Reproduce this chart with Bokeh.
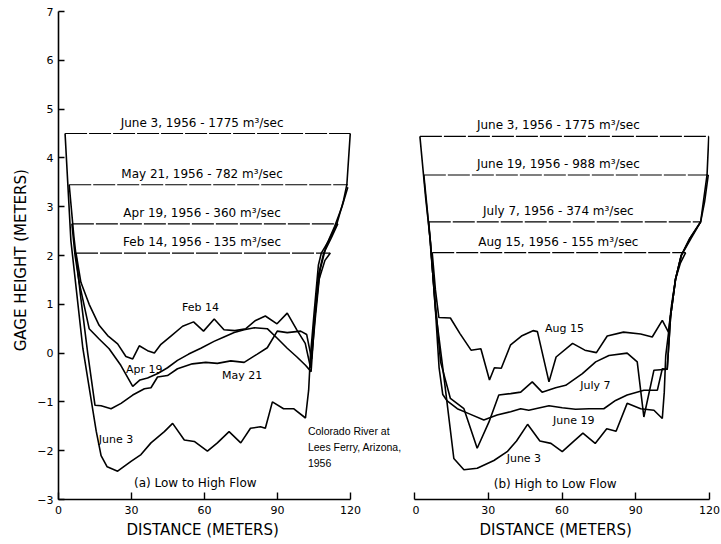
from bokeh.plotting import figure
from bokeh.models import Range1d, FixedTicker, ColumnDataSource, Label, Title
from bokeh.layouts import row
from bokeh.core.properties import value
from bokeh.embed import file_html
from bokeh.resources import INLINE

FONT = "DejaVu Sans"

# ---------------- data: (a) Low to High Flow ----------------
feb14_x = [7.2, 9.2, 12.6, 16.7, 20.2, 24.3, 27.7, 30.5, 33.2, 36.6, 39.4, 42.1, 46.2, 51.0, 55.5, 59.6,
           64.0, 68.0, 72.5, 77.0, 81.0, 85.0, 89.8, 94.0, 98.0, 101.4, 103.6, 105.0, 107.0, 109.5, 111.7]
feb14_y = [2.05, 1.45, 1.0, 0.57, 0.36, 0.19, -0.07, -0.12, 0.15, 0.05, 0.0, 0.18, 0.35, 0.55, 0.64, 0.45,
           0.70, 0.48, 0.46, 0.50, 0.67, 0.76, 0.60, 0.82, 0.47, 0.20, -0.30, 0.6, 1.5, 1.9, 2.05]

apr19_x = [5.5, 6.8, 8.5, 12.6, 16.7, 20.8, 25.6, 30.5, 33.5, 36.6, 40.8, 44.8, 48.9, 53.5, 58.5, 63.9,
           68.0, 72.2, 76.3, 80.5, 85.8, 90.0, 94.0, 98.0, 101.5, 103.8, 105.0, 106.8, 109.0, 112.0, 114.8]
apr19_y = [2.65, 2.0, 1.45, 0.5, 0.29, 0.09, -0.25, -0.68, -0.55, -0.51, -0.42, -0.3, -0.15, -0.02, 0.1, 0.24,
           0.33, 0.42, 0.48, 0.52, 0.5, 0.3, 0.1, -0.08, -0.25, -0.38, 0.5, 1.6, 2.05, 2.35, 2.65]

may21_x = [4.4, 6.3, 9.0, 12.0, 15.0, 17.5, 21.6, 25.7, 30.5, 35.3, 38.0, 40.7, 44.8, 48.9, 55.0, 60.5,
           65.3, 70.8, 76.3, 81.7, 85.8, 89.9, 94.0, 99.5, 102.0, 104.0, 105.5, 107.5, 110.0, 113.5, 116.5, 118.9]
may21_y = [3.45, 2.4, 1.2, 0.0, -1.07, -1.08, -1.14, -1.03, -0.86, -0.73, -0.71, -0.49, -0.46, -0.32, -0.22, -0.19,
           -0.21, -0.16, -0.19, -0.02, 0.11, 0.45, 0.42, 0.45, 0.38, -0.12, 0.7, 1.7, 2.2, 2.6, 3.0, 3.4]

jun3a_x = [2.7, 5.1, 10.0, 15.5, 17.5, 20.0, 24.3, 29.8, 33.9, 38.0, 43.5, 46.9, 51.7, 55.8, 61.2, 65.3,
           70.1, 74.9, 78.9, 83.0, 85.0, 87.9, 92.5, 96.6, 101.5, 102.8, 103.5, 105.0, 106.8, 108.0, 111.0,
           114.4, 117.0, 118.5, 119.9]
jun3a_y = [4.5, 2.3, 0.1, -1.6, -2.1, -2.33, -2.42, -2.22, -2.08, -1.84, -1.61, -1.44, -1.78, -1.81, -2.01, -1.84,
           -1.61, -1.84, -1.54, -1.51, -1.54, -1.0, -1.14, -1.14, -1.33, -0.76, -0.08, 0.8, 1.8, 2.05, 2.3,
           2.65, 3.1, 3.45, 4.5]

a_levels = [4.5, 3.45, 2.65, 2.05]
a_profiles = [(jun3a_x, jun3a_y), (may21_x, may21_y), (apr19_x, apr19_y), (feb14_x, feb14_y)]
a_level_text = ["June 3, 1956 - 1775 m\u00b3/sec", "May 21, 1956 - 782 m\u00b3/sec",
                "Apr 19, 1956 - 360 m\u00b3/sec", "Feb 14, 1956 - 135 m\u00b3/sec"]
a_curve_text = ["Feb 14", "Apr 19", "May 21", "June 3"]
a_curve_tx = [58.4, 35.2, 75.5, 23.6]
a_curve_ty = [0.94, -0.33, -0.46, -1.77]

# ---------------- data: (b) High to Low Flow ----------------
jun3b_x = [2.2, 4.5, 6.5, 8.5, 11.9, 16.0, 20.1, 25.5, 32.3, 37.7, 41.5, 46.0, 51.0, 55.5, 60.1, 64.5,
           68.5, 73.5, 78.2, 82.0, 86.5, 92.0, 97.4, 100.8, 101.6, 102.2, 104.2, 106.2, 108.5, 112.5,
           116.4, 119.0, 119.7]
jun3b_y = [4.44, 3.2, 2.27, 0.9, -0.46, -2.16, -2.39, -2.36, -2.2, -2.02, -1.8, -1.46, -1.8, -1.85, -2.02, -1.82,
           -1.64, -1.85, -1.55, -1.6, -1.03, -1.14, -1.17, -1.34, -0.8, -0.05, 0.77, 1.52, 2.0, 2.35,
           2.69, 3.65, 4.44]

jun19_x = [3.8, 6.5, 8.5, 10.0, 11.5, 13.3, 17.4, 22.1, 28.2, 33.6, 39.1, 43.2, 46.5, 49.2, 54.7, 60.1,
           65.5, 71.0, 77.0, 81.8, 86.5, 93.3, 98.8, 100.8, 102.8, 104.2, 106.2, 108.5, 112.0, 116.4, 118.0, 119.5]
jun19_y = [3.65, 2.27, 0.9, -0.3, -0.85, -0.98, -1.14, -1.24, -1.37, -1.27, -1.2, -1.14, -1.17, -1.14, -1.08, -1.12,
           -1.15, -1.14, -1.14, -0.97, -0.86, -0.76, -0.76, -0.32, -0.33, 0.77, 1.52, 2.0, 2.35, 2.69, 3.1, 3.65]

jul7_x = [5.8, 6.8, 8.5, 10.6, 14.6, 20.1, 25.5, 30.3, 34.3, 39.1, 43.2, 47.9, 51.9, 57.4, 61.5, 68.3,
          73.7, 79.1, 86.5, 90.6, 93.3, 97.4, 102.8, 104.2, 106.2, 108.5, 112.0, 116.4]
jul7_y = [2.69, 2.0, 1.0, -0.18, -0.93, -1.14, -1.95, -1.41, -0.86, -0.83, -0.8, -0.59, -0.8, -0.71, -0.66, -0.42,
          -0.18, -0.05, 0.0, -0.18, -1.31, -0.35, -0.33, 0.77, 1.52, 2.0, 2.35, 2.69]

aug15_x = [7.2, 8.5, 9.9, 14.6, 18.5, 23.0, 27.0, 30.5, 32.5, 35.3, 39.1, 43.5, 48.2, 50.0, 54.7, 57.6,
           64.3, 69.3, 74.0, 78.4, 85.0, 92.0, 96.7, 100.8, 103.3, 104.6, 106.2, 108.2, 110.3]
aug15_y = [2.06, 1.3, 0.73, 0.72, 0.4, 0.06, 0.09, -0.55, -0.3, -0.31, 0.17, 0.35, 0.46, 0.44, -0.59, -0.08,
           0.2, 0.06, 0.01, 0.35, 0.43, 0.39, 0.33, 0.67, 0.43, 1.0, 1.52, 1.85, 2.06]

b_levels = [4.44, 3.65, 2.69, 2.06]
b_profiles = [(jun3b_x, jun3b_y), (jun19_x, jun19_y), (jul7_x, jul7_y), (aug15_x, aug15_y)]
b_level_text = ["June 3, 1956 - 1775 m\u00b3/sec", "June 19, 1956 - 988 m\u00b3/sec",
                "July 7, 1956 - 374 m\u00b3/sec", "Aug 15, 1956 - 155 m\u00b3/sec"]
b_curve_text = ["Aug 15", "July 7", "June 19", "June 3"]
b_curve_tx = [61.0, 73.6, 64.8, 44.5]
b_curve_ty = [0.5, -0.66, -1.39, -2.16]

site_lines = ["Colorado River at", "Lees Ferry, Arizona,", "1956"]

x_ticks = [0, 30, 60, 90, 120]
y_ticks = [-3, -2, -1, 0, 1, 2, 3, 4, 5, 6, 7]

HEIGHT = 542
B_TOP, B_BOTTOM = 11, 43
X_TITLE = "DISTANCE  (METERS)"


def make_panel(width, bl, br, x_end, with_y, profiles, levels, level_text, label_x,
               curve_text, ctx, cty, caption, title_offset):
    p = figure(width=width, height=HEIGHT, x_range=Range1d(0, x_end), y_range=Range1d(-3, 7),
               output_backend="svg", toolbar_location=None,
               y_axis_location="left" if with_y else None,
               min_border_left=bl, min_border_right=br, min_border_top=B_TOP,
               min_border_bottom=B_BOTTOM)
    p.outline_line_color = None
    p.xgrid.visible = False
    p.ygrid.visible = False
    p.background_fill_color = "white"

    ax = p.xaxis[0]
    ax.ticker = FixedTicker(ticks=x_ticks)
    ax.bounds = (0, 120)
    ax.major_label_text_font = FONT
    ax.major_label_text_font_size = "11px"
    ax.major_label_text_color = "black"
    ax.major_label_standoff = 6
    ax.major_tick_in = 7
    ax.major_tick_out = 0
    ax.minor_tick_line_color = None
    ax.axis_line_width = 1.4
    ax.major_tick_line_width = 1.4
    ax.axis_line_color = "black"
    ax.major_tick_line_color = "black"

    # x-axis title, centred under the 0..120 span of the axis
    p.add_layout(Title(text=X_TITLE, align="left", offset=title_offset, standoff=5,
                       text_font=FONT, text_font_size="15px", text_font_style="normal",
                       text_color="black"), "below")

    if with_y:
        ay = p.yaxis[0]
        ay.ticker = FixedTicker(ticks=y_ticks)
        ay.axis_label = "GAGE  HEIGHT  (METERS)"
        ay.axis_label_text_font = FONT
        ay.axis_label_text_font_size = "15px"
        ay.axis_label_text_font_style = "normal"
        ay.axis_label_text_color = "black"
        ay.axis_label_standoff = 4
        ay.major_label_text_font = FONT
        ay.major_label_text_font_size = "11px"
        ay.major_label_text_color = "black"
        ay.major_label_standoff = 5
        ay.major_tick_in = 6
        ay.major_tick_out = 0
        ay.minor_tick_line_color = None
        ay.axis_line_width = 1.6
        ay.major_tick_line_width = 1.4
        ay.axis_line_color = "black"
        ay.major_tick_line_color = "black"

    # water-surface lines, spanning the bank endpoints of each profile
    ws = ColumnDataSource(dict(
        x0=[pr[0][0] for pr in profiles], x1=[pr[0][-1] for pr in profiles],
        y=levels, text=level_text, tx=[label_x] * len(levels)))
    p.segment(x0="x0", y0="y", x1="x1", y1="y", source=ws,
              line_color="black", line_width=1.2, line_dash="22 2")
    p.text(x="tx", y="y", text="text", source=ws, text_align="center", text_baseline="bottom",
           y_offset=-4, text_font=value(FONT), text_font_size="12px", text_color="black")

    for xs, ys in profiles:
        p.line(xs, ys, line_color="black", line_width=1.6)

    cs = ColumnDataSource(dict(x=ctx, y=cty, text=curve_text))
    p.text(x="x", y="y", text="text", source=cs, text_align="center", text_baseline="middle",
           text_font=value(FONT), text_font_size="11px", text_color="black")
    p.add_layout(Label(x=caption[0], y=caption[1], text=caption[2], text_align="center",
                       text_baseline="middle", text_font=FONT, text_font_size="12px",
                       text_color="black"))
    return p


# left panel: frame extends over the gap (axis bounded to 0..120) so the site note fits
L_W, L_BL, L_BR = 412, 58, 2
L_PANEL_PX = 292
L_END = 120 * (L_W - L_BL - L_BR) / L_PANEL_PX

left = make_panel(L_W, L_BL, L_BR, L_END, True, a_profiles, a_levels, a_level_text, 59.0,
                  a_curve_text, a_curve_tx, a_curve_ty, (57.0, -2.67, "(a)  Low to High Flow"), 68)
right = make_panel(309, 2, 12, 120, False, b_profiles, b_levels, b_level_text, 58.5,
                   b_curve_text, b_curve_tx, b_curve_ty, (58.0, -2.69, "(b)  High to Low Flow"), 65)

site = ColumnDataSource(dict(x=[102.5] * 3, y=[-1.6] * 3, yo=[0, 16, 32], text=site_lines))
left.text(x="x", y="y", y_offset="yo", text="text", source=site, text_align="left",
          text_baseline="middle", text_font=value("Liberation Sans"), text_font_size="10.5px",
          text_color="black")

layout = row(left, right)
open("out.html", "w").write(file_html(layout, INLINE))
